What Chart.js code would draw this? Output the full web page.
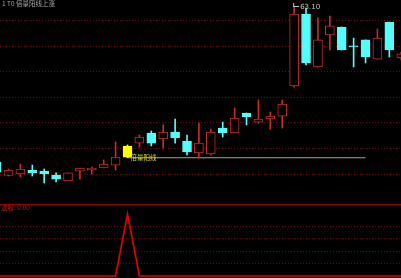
<!DOCTYPE html>
<html lang="zh">
<head>
  <meta charset="UTF-8">
  <title>倍量阳线</title>
  <script src="https://cdn.jsdelivr.net/npm/chart.js"></script>
  <style>
    body { margin: 0; background: #000; }
    #wrap { position: relative; width: 401px; height: 278px; overflow: hidden; background: #000; }
    #kline { position: absolute; left: 0; top: 0; }
    #ind { position: absolute; left: 0; top: 204px; }
    #sep { position: absolute; left: 0; top: 204px; width: 401px; height: 1px; background: rgb(150, 0, 0); }
  </style>
</head>
<body>
<div id="wrap">
  <canvas id="kline" width="401" height="204"></canvas>
  <canvas id="ind" width="401" height="74"></canvas>
  <div id="sep"></div>
</div>

<script>
  // dados (indice do candle, OHLC e tipo)
  const candleIdx = [-1, 0, 1, 2, 3, 4, 5, 6, 7, 8, 9, 10, 11, 12, 13, 14, 15, 16, 17, 18, 19, 20, 21, 22, 23, 24, 25, 26, 27, 28, 29, 30, 31, 32, 33];
  const opens  = [53.96, 53.17, 53.26, 53.49, 53.43, 53.20, 52.85, 53.43, 53.49, 53.61, 53.78, 54.25, 55.07, 55.66, 55.31, 55.72, 55.19, 54.49, 54.43, 55.95, 55.66, 56.83, 56.30, 56.48, 56.65, 58.41, 62.63, 59.53, 61.40, 61.87, 60.76, 61.11, 59.99, 62.16, 60.05];
  const highs  = [54.08, 53.55, 53.84, 53.78, 53.55, 53.32, 53.32, 53.61, 53.67, 54.08, 55.13, 54.96, 55.54, 55.78, 56.13, 56.48, 55.54, 56.24, 55.89, 56.30, 57.12, 56.83, 57.59, 56.89, 57.59, 63.10, 62.98, 62.40, 62.51, 61.87, 61.22, 61.11, 61.75, 62.16, 60.40];
  const lows   = [53.26, 53.14, 53.08, 53.14, 52.73, 52.79, 52.85, 52.96, 53.26, 53.61, 53.49, 54.21, 54.84, 54.90, 54.78, 55.07, 54.37, 54.19, 54.37, 55.42, 55.66, 56.13, 56.24, 55.89, 55.95, 58.35, 59.64, 59.53, 60.52, 60.52, 59.53, 59.76, 59.99, 60.11, 59.94];
  const closes = [53.37, 53.49, 53.55, 53.32, 53.26, 52.96, 53.32, 53.61, 53.61, 53.84, 54.25, 54.90, 55.42, 55.07, 55.72, 55.37, 54.55, 55.07, 55.72, 55.66, 56.54, 56.60, 56.48, 56.65, 57.36, 62.63, 59.76, 61.11, 61.93, 60.52, 60.70, 60.11, 61.22, 60.52, 60.29];
  const signals = [0, 0, 0, 0, 0, 0, 0, 0, 0, 0, 0, 1, 0, 0, 0, 0, 0, 0, 0, 0, 0, 0, 0, 0, 0, 0, 0, 0, 0, 0, 0, 0, 0, 0, 0];
  const gridPrices = [53.25, 54.75, 56.25, 57.75, 59.25, 60.75, 62.25];
  const indTicks = [0.2, 0.4, 0.6, 0.8];

  const titleText = '1 T0 倍量阳线上涨';
  const signalText = '倍量阳线';
  const indLabel = '选股: 0.00';

  const UP = 'rgb(205, 40, 40)';
  const DOWN = 'rgb(84, 252, 252)';
  const SIG = 'rgb(255, 255, 0)';
  const GRID = 'rgb(125, 0, 0)';

  const xMin = -0.714, xMax = 32.98;

  // cor de cada candle
  const colors = [];
  const fills = [];
  for (var i = 0; i < candleIdx.length; i++) {
    if (signals[i] === 1) {
      colors.push(SIG); fills.push(SIG);
    } else if (closes[i] >= opens[i]) {
      colors.push(UP); fills.push('#000');
    } else {
      colors.push(DOWN); fills.push(DOWN);
    }
  }

  const wickData = candleIdx.map((x, i) => ({ x: x, y: [lows[i], highs[i]] }));
  const bodyData = candleIdx.map((x, i) => ({ x: x, y: [opens[i], closes[i]] }));

  const sigPos = signals.indexOf(1);
  const topPos = highs.indexOf(Math.max(...highs));
  const levelData = [{ x: candleIdx[sigPos], y: lows[sigPos] }, { x: 30, y: lows[sigPos] }];

  const textPlugin = {
    id: 'textos',
    afterDatasetsDraw(chart) {
      const { ctx, scales: { x, y } } = chart;
      ctx.save();
      ctx.textBaseline = 'middle';
      ctx.font = '6.5px "Noto Sans CJK SC"';
      ctx.fillStyle = 'rgb(165, 165, 165)';
      ctx.fillText(titleText, 2, 3.5);

      // rotulo do sinal
      ctx.fillStyle = 'rgb(215, 215, 40)';
      ctx.font = '6.5px "Noto Sans CJK SC"';
      ctx.fillText(signalText, x.getPixelForValue(candleIdx[sigPos]) + 3, y.getPixelForValue(lows[sigPos]) - 0.5);

      // maxima
      const hx = x.getPixelForValue(candleIdx[topPos]);
      const hy = y.getPixelForValue(highs[topPos]);
      ctx.strokeStyle = 'rgb(200, 200, 200)';
      ctx.lineWidth = 1;
      ctx.beginPath();
      ctx.moveTo(hx - 1, hy + 0.5);
      ctx.lineTo(hx + 5, hy + 0.5);
      ctx.moveTo(hx - 0.5, hy + 0.5);
      ctx.lineTo(hx - 0.5, hy - 3);
      ctx.stroke();
      ctx.fillStyle = 'rgb(200, 200, 200)';
      ctx.font = '7px "DejaVu Sans"';
      ctx.fillText(highs[topPos].toFixed(2), hx + 6, hy + 1.5);
      ctx.restore();
    }
  };

  new Chart(document.getElementById('kline').getContext('2d'), {
    type: 'bar',
    data: {
      datasets: [
        {
          type: 'line',
          data: levelData,
          borderColor: 'rgb(160, 160, 160)',
          borderWidth: 1,
          pointRadius: 0,
          order: 3
        },
        {
          data: wickData,
          backgroundColor: colors,
          borderWidth: 0,
          barThickness: 1,
          grouped: false,
          order: 2
        },
        {
          data: bodyData,
          backgroundColor: fills,
          borderColor: colors,
          borderWidth: 1,
          borderSkipped: false,
          barThickness: 9,
          grouped: false,
          order: 1
        }
      ]
    },
    options: {
      responsive: false,
      animation: false,
      layout: { padding: 0 },
      plugins: { legend: { display: false }, tooltip: { enabled: false } },
      scales: {
        x: { type: 'linear', min: xMin, max: xMax, display: false, offset: false },
        y: {
          min: 51.50,
          max: 63.45,
          afterBuildTicks: (axis) => { axis.ticks = gridPrices.map(v => ({ value: v })); },
          afterFit: (axis) => { axis.width = 0; },
          ticks: { display: false },
          grid: { color: GRID, drawTicks: false, lineWidth: 1 },
          border: { display: false, dash: [1, 2] }
        }
      }
    },
    plugins: [textPlugin]
  });

  const indPlugin = {
    id: 'rotulo',
    afterDatasetsDraw(chart) {
      const ctx = chart.ctx;
      ctx.save();
      ctx.textBaseline = 'middle';
      ctx.font = '6.5px "Noto Sans CJK SC"';
      ctx.fillStyle = 'rgb(205, 20, 20)';
      ctx.fillText(indLabel, 1, 4);
      ctx.restore();
    }
  };

  new Chart(document.getElementById('ind').getContext('2d'), {
    type: 'line',
    data: {
      datasets: [{
        data: candleIdx.map((x, i) => ({ x: x, y: signals[i] })),
        borderColor: 'rgb(230, 0, 0)',
        borderWidth: 1.6,
        pointRadius: 0,
        tension: 0
      }]
    },
    options: {
      responsive: false,
      animation: false,
      layout: { padding: 0 },
      plugins: { legend: { display: false }, tooltip: { enabled: false } },
      scales: {
        x: { type: 'linear', min: xMin, max: xMax, display: false },
        y: {
          min: -0.032,
          max: 1.161,
          afterBuildTicks: (axis) => { axis.ticks = indTicks.map(v => ({ value: v })); },
          afterFit: (axis) => { axis.width = 0; },
          ticks: { display: false },
          grid: { color: GRID, drawTicks: false, lineWidth: 1 },
          border: { display: false, dash: [1, 2] }
        }
      }
    },
    plugins: [indPlugin]
  });
</script>
</body>
</html>
